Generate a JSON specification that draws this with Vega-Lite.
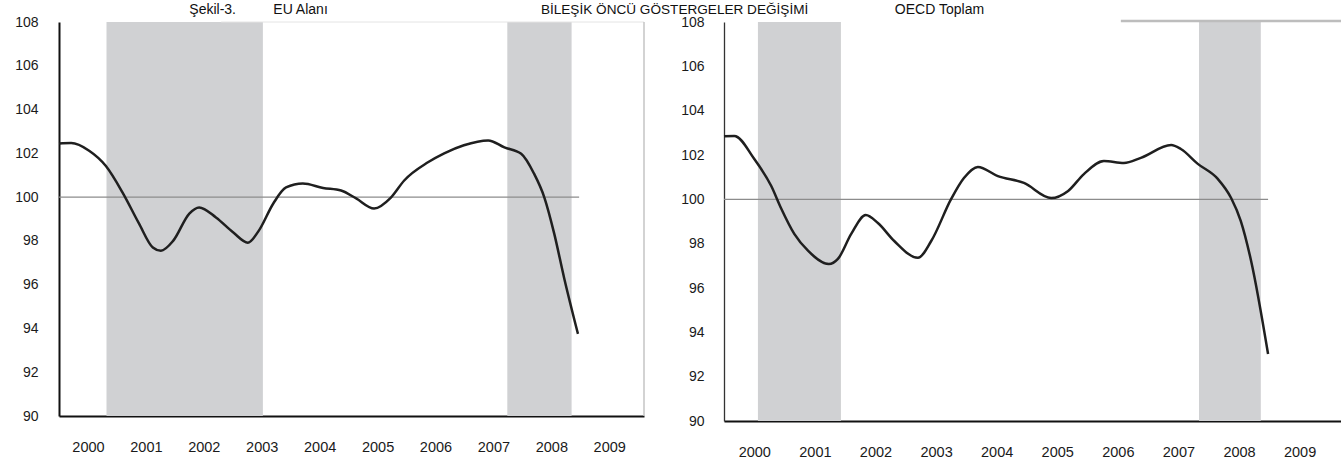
{
  "$schema": "https://vega.github.io/schema/vega-lite/v6.json",
  "padding": {"left": 14, "top": 2, "right": 0, "bottom": 0},
  "background": "white",
  "config": {
    "view": {"stroke": null},
    "font": "Liberation Sans",
    "axis": {"grid": false, "ticks": false, "labelFont": "Liberation Sans", "labelFontSize": 14, "labelColor": "#1a1a1a", "labelFlush": false}
  },
  "datasets": {
    "eu": [
      {"t": 2000.00, "v": 102.45}, {"t": 2000.21, "v": 102.47}, {"t": 2000.52, "v": 102.12}, {"t": 2000.81, "v": 101.42},
      {"t": 2001.11, "v": 100.15}, {"t": 2001.38, "v": 98.8}, {"t": 2001.62, "v": 97.7}, {"t": 2001.76, "v": 97.55},
      {"t": 2001.97, "v": 98.0}, {"t": 2002.25, "v": 99.25}, {"t": 2002.42, "v": 99.53}, {"t": 2002.71, "v": 99.07},
      {"t": 2003.01, "v": 98.38}, {"t": 2003.26, "v": 97.92}, {"t": 2003.45, "v": 98.47}, {"t": 2003.70, "v": 99.71},
      {"t": 2003.92, "v": 100.44}, {"t": 2004.21, "v": 100.62}, {"t": 2004.56, "v": 100.42}, {"t": 2004.87, "v": 100.3},
      {"t": 2005.13, "v": 99.94}, {"t": 2005.44, "v": 99.48}, {"t": 2005.73, "v": 99.98}, {"t": 2005.96, "v": 100.76},
      {"t": 2006.37, "v": 101.59}, {"t": 2006.65, "v": 102.0}, {"t": 2006.99, "v": 102.37}, {"t": 2007.41, "v": 102.59},
      {"t": 2007.69, "v": 102.27}, {"t": 2007.98, "v": 101.98}, {"t": 2008.20, "v": 101.08}, {"t": 2008.38, "v": 99.98},
      {"t": 2008.55, "v": 98.33}, {"t": 2008.72, "v": 96.32}, {"t": 2008.96, "v": 93.75}
    ],
    "oecd": [
      {"t": 2000.00, "v": 102.85}, {"t": 2000.17, "v": 102.86}, {"t": 2000.50, "v": 101.82}, {"t": 2000.78, "v": 100.6},
      {"t": 2000.94, "v": 99.61}, {"t": 2001.16, "v": 98.44}, {"t": 2001.39, "v": 97.67}, {"t": 2001.73, "v": 97.08},
      {"t": 2001.88, "v": 97.31}, {"t": 2002.10, "v": 98.44}, {"t": 2002.34, "v": 99.29}, {"t": 2002.54, "v": 98.93},
      {"t": 2002.81, "v": 98.12}, {"t": 2003.20, "v": 97.36}, {"t": 2003.42, "v": 98.12}, {"t": 2003.75, "v": 100.02},
      {"t": 2003.96, "v": 100.96}, {"t": 2004.19, "v": 101.46}, {"t": 2004.52, "v": 101.05}, {"t": 2004.95, "v": 100.74},
      {"t": 2005.40, "v": 100.06}, {"t": 2005.68, "v": 100.38}, {"t": 2005.94, "v": 101.14}, {"t": 2006.27, "v": 101.73},
      {"t": 2006.60, "v": 101.64}, {"t": 2006.88, "v": 101.87}, {"t": 2007.38, "v": 102.45}, {"t": 2007.54, "v": 102.27},
      {"t": 2007.82, "v": 101.6}, {"t": 2008.15, "v": 100.92}, {"t": 2008.37, "v": 100.06}, {"t": 2008.53, "v": 99.02},
      {"t": 2008.70, "v": 97.22}, {"t": 2008.98, "v": 93.02}
    ],
    "euBands": [{"start": 2000.82, "end": 2003.52}, {"start": 2007.74, "end": 2008.85}],
    "oecdBands": [{"start": 2000.56, "end": 2001.93}, {"start": 2007.84, "end": 2008.86}]
  },
  "bounds": "flush",
  "spacing": 80,
  "hconcat": [
    {
      "width": 585,
      "height": 394,
      "layer": [
        {
          "data": {"name": "euBands"},
          "mark": {"type": "rect", "color": "#d0d1d3"},
          "encoding": {
            "x": {"field": "start", "type": "quantitative", "scale": {"domain": [2000, 2010.1], "nice": false, "zero": false},
                  "axis": {"title": null, "values": [2000.5, 2001.5, 2002.5, 2003.5, 2004.5, 2005.5, 2006.5, 2007.5, 2008.5, 2009.5], "labelExpr": "floor(datum.value)", "labelPadding": 24, "labelFontSize": 14.5, "domainWidth": 2.2, "domainColor": "#111"}},
            "x2": {"field": "end"}
          }
        },
        {
          "data": {"values": [{}]},
          "mark": {"type": "rule", "color": "#e4e4e4", "strokeWidth": 1},
          "encoding": {"x": {"datum": 2002.8, "type": "quantitative"}, "x2": {"datum": 2010.1}, "y": {"datum": 108, "type": "quantitative"}}
        },
        {
          "data": {"values": [{}]},
          "mark": {"type": "rule", "color": "#8c8c8c", "strokeWidth": 1.2},
          "encoding": {"x": {"datum": 2000, "type": "quantitative"}, "x2": {"datum": 2008.98}, "y": {"datum": 100, "type": "quantitative"}}
        },
        {
          "data": {"name": "eu"},
          "mark": {"type": "line", "interpolate": "monotone", "color": "#1f1f1f", "strokeWidth": 2.5},
          "encoding": {
            "x": {"field": "t", "type": "quantitative"},
            "y": {"field": "v", "type": "quantitative", "scale": {"domain": [90, 108], "nice": false, "zero": false},
                  "axis": {"title": null, "values": [90, 92, 94, 96, 98, 100, 102, 104, 106, 108], "labelPadding": 21, "domainWidth": 2, "domainColor": "#111"}}
          }
        },
        {
          "data": {"values": [{}]},
          "mark": {"type": "rule", "color": "#c4c4c4", "strokeWidth": 1.5},
          "encoding": {"x": {"datum": 2010.1, "type": "quantitative"}}
        },
        {
          "data": {"values": [{"label": "Şekil-3."}]},
          "mark": {"type": "text", "align": "left", "baseline": "middle", "fontSize": 14, "color": "#111", "font": "Liberation Sans"},
          "encoding": {"x": {"datum": 2002.25, "type": "quantitative"}, "y": {"datum": 108.55, "type": "quantitative"}, "text": {"field": "label"}}
        },
        {
          "data": {"values": [{"label": "EU Alanı"}]},
          "mark": {"type": "text", "align": "left", "baseline": "middle", "fontSize": 14, "color": "#111", "font": "Liberation Sans"},
          "encoding": {"x": {"datum": 2003.7, "type": "quantitative"}, "y": {"datum": 108.55, "type": "quantitative"}, "text": {"field": "label"}}
        },
        {
          "data": {"values": [{"label": "BİLEŞİK ÖNCÜ GÖSTERGELER DEĞİŞİMİ"}]},
          "mark": {"type": "text", "align": "left", "baseline": "middle", "fontSize": 13.6, "color": "#111", "font": "Liberation Sans"},
          "encoding": {"x": {"datum": 2008.32, "type": "quantitative"}, "y": {"datum": 108.55, "type": "quantitative"}, "text": {"field": "label"}}
        }
      ]
    },
    {
      "width": 618,
      "height": 399,
      "layer": [
        {
          "data": {"name": "oecdBands"},
          "mark": {"type": "rect", "color": "#d0d1d3"},
          "encoding": {
            "x": {"field": "start", "type": "quantitative", "scale": {"domain": [2000, 2010.2], "nice": false, "zero": false},
                  "axis": {"title": null, "values": [2000.5, 2001.5, 2002.5, 2003.5, 2004.5, 2005.5, 2006.5, 2007.5, 2008.5, 2009.5], "labelExpr": "floor(datum.value)", "labelPadding": 24, "labelFontSize": 14.5, "domainWidth": 1.8, "domainColor": "#111"}},
            "x2": {"field": "end"}
          }
        },
        {
          "data": {"values": [{}]},
          "mark": {"type": "rule", "color": "#bdbdbd", "strokeWidth": 2.5},
          "encoding": {"x": {"datum": 2006.55, "type": "quantitative"}, "x2": {"datum": 2010.2}, "y": {"datum": 108.05, "type": "quantitative"}}
        },
        {
          "data": {"values": [{}]},
          "mark": {"type": "rule", "color": "#8c8c8c", "strokeWidth": 1.2},
          "encoding": {"x": {"datum": 2000, "type": "quantitative"}, "x2": {"datum": 2008.98}, "y": {"datum": 100, "type": "quantitative"}}
        },
        {
          "data": {"name": "oecd"},
          "mark": {"type": "line", "interpolate": "monotone", "color": "#1f1f1f", "strokeWidth": 2.5},
          "encoding": {
            "x": {"field": "t", "type": "quantitative"},
            "y": {"field": "v", "type": "quantitative", "scale": {"domain": [90, 108], "nice": false, "zero": false},
                  "axis": {"title": null, "values": [90, 92, 94, 96, 98, 100, 102, 104, 106, 108], "labelPadding": 20, "domainWidth": 1.3, "domainColor": "#333"}}
          }
        },
        {
          "data": {"values": [{"label": "OECD Toplam"}]},
          "mark": {"type": "text", "align": "left", "baseline": "middle", "fontSize": 14, "color": "#111", "font": "Liberation Sans"},
          "encoding": {"x": {"datum": 2002.82, "type": "quantitative"}, "y": {"datum": 108.55, "type": "quantitative"}, "text": {"field": "label"}}
        }
      ]
    }
  ]
}
